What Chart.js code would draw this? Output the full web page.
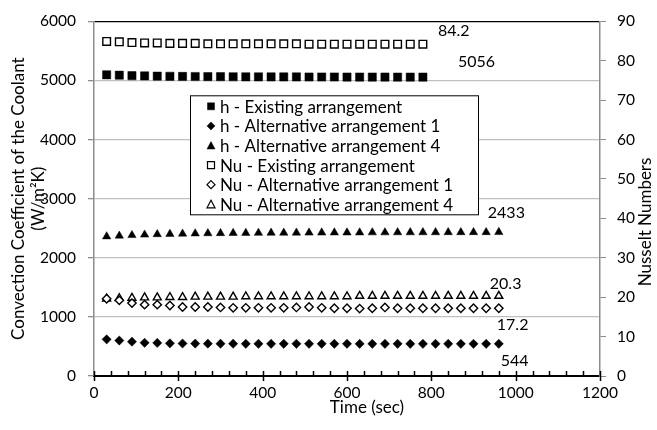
<!DOCTYPE html>
<html>
<head>
<meta charset="utf-8">
<script src="https://cdn.jsdelivr.net/npm/chart.js@4.4.1/dist/chart.umd.min.js"></script>
<style>
  html, body { margin: 0; padding: 0; background: #fff; }
  #caixa { width: 657px; height: 430px; }
</style>
</head>
<body>
<div id="caixa"><canvas id="grafico"></canvas></div>
<script>
// tempos (s)
const tempos = [30, 60, 90, 120, 150, 180, 210, 240, 270, 300, 330, 360, 390, 420, 450, 480,
                510, 540, 570, 600, 630, 660, 690, 720, 750, 780, 810, 840, 870, 900, 930, 960];
const tempos_existente = [30, 60, 90, 120, 150, 180, 210, 240, 270, 300, 330, 360, 390,
                          420, 450, 480, 510, 540, 570, 600, 630, 660, 690, 720, 750, 780];

// coeficiente de conveccao h (W/m2K)
const h_existente = [5095, 5088, 5080, 5076, 5072, 5070, 5067, 5066, 5064, 5063, 5062, 5061, 5060,
                     5060, 5059, 5059, 5058, 5058, 5058, 5057, 5057, 5057, 5057, 5056, 5056, 5056];
const h_alt1 = [620, 600, 580, 562, 560, 552, 550, 548, 547, 546, 546, 545, 545, 545, 545, 545,
                545, 545, 545, 545, 544, 544, 544, 544, 544, 544, 544, 544, 544, 544, 544, 544];
const h_alt4 = [2360, 2372, 2382, 2390, 2397, 2402, 2406, 2410, 2413, 2415, 2417, 2419, 2420, 2421, 2422, 2423,
                2424, 2425, 2426, 2426, 2427, 2428, 2428, 2429, 2429, 2430, 2430, 2431, 2431, 2432, 2432, 2433];

// numero de Nusselt
const nu_existente = [84.9, 84.8, 84.6, 84.5, 84.5, 84.4, 84.4, 84.4, 84.3, 84.3, 84.3, 84.3, 84.3,
                      84.3, 84.3, 84.3, 84.2, 84.2, 84.2, 84.2, 84.2, 84.2, 84.2, 84.2, 84.2, 84.2];
const nu_alt1 = [19.6, 19.2, 18.5, 18.1, 18.1, 17.9, 17.5, 17.5, 17.5, 17.4, 17.3, 17.3, 17.3, 17.3, 17.3, 17.4,
                 17.5, 17.3, 17.2, 17.2, 17.1, 17.2, 17.4, 17.2, 17.2, 17.2, 17.2, 17.2, 17.2, 17.2, 17.2, 17.2];
const nu_alt4 = [19.6, 19.7, 19.8, 19.9, 19.9, 20.0, 20.0, 20.1, 20.1, 20.1, 20.1, 20.2, 20.2, 20.2, 20.2, 20.2,
                 20.2, 20.2, 20.2, 20.2, 20.3, 20.3, 20.3, 20.3, 20.3, 20.3, 20.3, 20.3, 20.3, 20.3, 20.3, 20.3];

// escalas
const marcas_x = [0, 200, 400, 600, 800, 1000, 1200];
const marcas_h = [0, 1000, 2000, 3000, 4000, 5000, 6000];
const marcas_nu = [0, 10, 20, 30, 40, 50, 60, 70, 80, 90];
const rotulos = ['h - Existing arrangement', 'h - Alternative arrangement 1', 'h - Alternative arrangement 4',
                 'Nu - Existing arrangement', 'Nu - Alternative arrangement 1', 'Nu - Alternative arrangement 4'];

const FONTE = 'Lato, "Open Sans", sans-serif';
const TAM_NUM = 15.5;
const TAM_TXT = 17;

function pontos(xs, ys) {
    return ys.map(function (v, i) { return { x: xs[i], y: v }; });
}

function serie(i, xs, ys, eixo, estilo, cheio, raio, dx, dy, casas) {
    return {
        label: rotulos[i],
        data: pontos(xs, ys),
        yAxisID: eixo,
        showLine: false,
        pointStyle: estilo,
        pointRadius: raio,
        pointHoverRadius: raio,
        pointBackgroundColor: cheio ? '#000' : '#fff',
        pointBorderColor: '#000',
        pointBorderWidth: cheio ? 0.5 : 1.4,
        backgroundColor: cheio ? '#000' : '#fff',
        borderColor: '#000',
        rotulo: { dx: dx, dy: dy, casas: casas }
    };
}

// desenha marcador simples (legenda)
function marcador(ctx, estilo, cheio, x, y, r) {
    ctx.beginPath();
    if (estilo === 'rect') {
        ctx.rect(x - r, y - r, 2 * r, 2 * r);
    } else if (estilo === 'rectRot') {
        ctx.moveTo(x, y - r - 0.5); ctx.lineTo(x + r + 0.5, y); ctx.lineTo(x, y + r + 0.5); ctx.lineTo(x - r - 0.5, y);
        ctx.closePath();
    } else {
        ctx.moveTo(x, y - r - 0.5); ctx.lineTo(x + r + 0.5, y + r); ctx.lineTo(x - r - 0.5, y + r);
        ctx.closePath();
    }
    ctx.fillStyle = cheio ? '#000' : '#fff';
    ctx.fill();
    ctx.strokeStyle = '#000';
    ctx.lineWidth = cheio ? 0.5 : 1.2;
    ctx.stroke();
}

const extras = {
    id: 'extras',
    afterDraw(chart) {
        const ctx = chart.ctx, a = chart.chartArea;
        const sx = chart.scales.x;
        ctx.save();

        // marcas do eixo x (principais cruzando, secundarias para dentro)
        ctx.strokeStyle = '#000';
        ctx.lineWidth = 1.5;
        for (let v = sx.min; v <= sx.max; v += 40) {
            const px = Math.round(sx.getPixelForValue(v)) + 0.5;
            const principal = marcas_x.indexOf(v) >= 0;
            ctx.beginPath();
            ctx.moveTo(px, a.bottom - 5);
            ctx.lineTo(px, principal ? a.bottom + 5 : a.bottom);
            ctx.stroke();
        }

        // rotulos do ultimo ponto
        ctx.font = '16px ' + FONTE;
        ctx.fillStyle = '#000';
        ctx.textBaseline = 'middle';
        ctx.textAlign = 'left';
        chart.data.datasets.forEach(function (ds, i) {
            const meta = chart.getDatasetMeta(i);
            const ult = meta.data[meta.data.length - 1];
            const v = ds.data[ds.data.length - 1].y;
            ctx.fillText(v.toFixed(ds.rotulo.casas), ult.x + ds.rotulo.dx, ult.y + ds.rotulo.dy);
        });

        // legenda dentro da area do grafico
        ctx.font = TAM_TXT + 'px ' + FONTE;
        const lx = a.left + 96, ly = a.top + 74, lw = 288, lh = 119;
        ctx.fillStyle = '#fff';
        ctx.fillRect(lx, ly, lw, lh);
        ctx.strokeStyle = '#000';
        ctx.lineWidth = 1;
        ctx.strokeRect(lx + 0.5, ly + 0.5, lw, lh);
        chart.data.datasets.forEach(function (ds, i) {
            const cy = ly + 11 + i * 19.6;
            marcador(ctx, ds.pointStyle, ds.pointBackgroundColor === '#000', lx + 21, cy, 3.5);
            ctx.fillStyle = '#000';
            ctx.textAlign = 'left';
            ctx.fillText(ds.label, lx + 30, cy + 1);
        });

        // titulos
        ctx.textAlign = 'center';
        ctx.fillText('Time (sec)', (a.left + a.right) / 2 + 20, 408);
        ctx.translate(646, 222);
        ctx.rotate(-Math.PI / 2);
        ctx.fillText('Nusselt Numbers', 0, 0);
        ctx.restore();
    }
};

const ctx = document.getElementById('grafico');

const semVirgula = function (v) { return String(v); };

new Chart(ctx, {
    type: 'scatter',
    data: {
        datasets: [
            serie(0, tempos_existente, h_existente, 'y', 'rect', true, 5.8, 35, -15, 0),
            serie(1, tempos, h_alt1, 'y', 'rectRot', true, 4.6, 2, 17, 0),
            serie(2, tempos, h_alt4, 'y', 'triangle', true, 4.8, -11, -19, 0),
            serie(3, tempos_existente, nu_existente, 'y1', 'rect', false, 5.4, 15, -13, 1),
            serie(4, tempos, nu_alt1, 'y1', 'rectRot', false, 4.2, -2, 17, 1),
            serie(5, tempos, nu_alt4, 'y1', 'triangle', false, 4.6, -9, -12, 1)
        ]
    },
    options: {
        responsive: true,
        maintainAspectRatio: false,
        animation: false,
        layout: { padding: { top: 15, right: 0, bottom: 0, left: 0 } },
        plugins: {
            legend: { display: false },
            tooltip: { enabled: false }
        },
        scales: {
            x: {
                type: 'linear',
                min: 0,
                max: 1200,
                afterBuildTicks: function (s) { s.ticks = marcas_x.map(function (v) { return { value: v }; }); },
                afterFit: function (s) { s.height = 54; },
                grid: { display: false },
                border: { display: true, color: '#000', width: 2 },
                ticks: { color: '#000', font: { family: FONTE, size: TAM_NUM }, padding: 0, maxRotation: 0, callback: semVirgula }
            },
            y: {
                type: 'linear',
                position: 'left',
                min: 0,
                max: 6000,
                afterBuildTicks: function (s) { s.ticks = marcas_h.map(function (v) { return { value: v }; }); },
                afterFit: function (s) { s.width = 94; },
                grid: {
                    color: function (c) {
                        if (c.tick.value === 6000) return '#000';
                        if (c.tick.value === 0) return 'rgba(0,0,0,0)';
                        return '#c0c0c0';
                    },
                    lineWidth: 1.3,
                    tickColor: '#8c8c8c',
                    tickLength: 6
                },
                border: { display: true, color: '#8c8c8c', width: 1.5 },
                ticks: { color: '#000', font: { family: FONTE, size: TAM_NUM }, padding: 12, callback: semVirgula },
                title: {
                    display: true,
                    text: ['Convection Coefficient of the Coolant', '(W/m\u00b2K)'],
                    color: '#000',
                    font: { family: FONTE, size: TAM_TXT, lineHeight: 1.2 },
                    padding: { top: 8, bottom: 0 }
                }
            },
            y1: {
                type: 'linear',
                position: 'right',
                min: 0,
                max: 90,
                afterBuildTicks: function (s) { s.ticks = marcas_nu.map(function (v) { return { value: v }; }); },
                afterFit: function (s) { s.width = 57; },
                grid: { drawOnChartArea: false, tickColor: '#8c8c8c', tickLength: 6 },
                border: { display: true, color: '#8c8c8c', width: 1.5 },
                ticks: { color: '#000', font: { family: FONTE, size: TAM_NUM }, padding: 11, callback: semVirgula }
            }
        }
    },
    plugins: [extras]
});
</script>
</body>
</html>
